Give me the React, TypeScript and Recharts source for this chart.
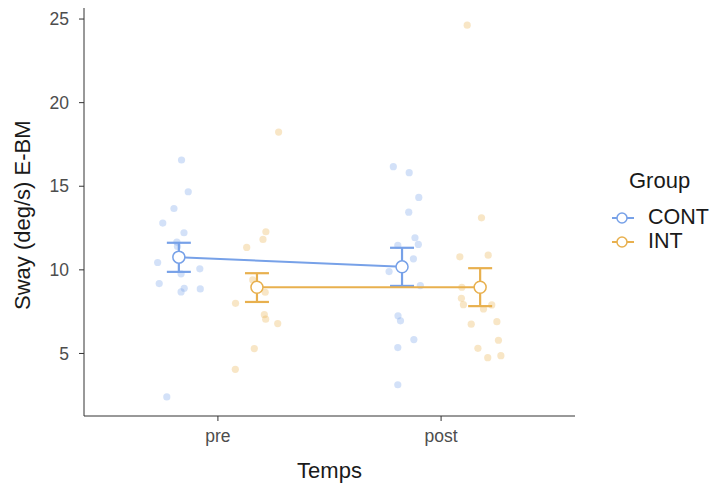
import {
  ComposedChart,
  Scatter,
  ErrorBar,
  XAxis,
  YAxis,
  Legend,
} from "recharts";

const categories = ["pre", "post"];
const groups = ["CONT", "INT"];
const colors = ["#77A1E8", "#E8B04E"];
const yTicks = [5, 10, 15, 20, 25];

// raw observations, x = jittered position around the category (1 = pre, 2 = post)
const contPreX = [0.837, 0.867, 0.803, 0.753, 0.848, 0.816, 0.819, 0.73, 0.919, 0.835, 0.737, 0.849, 0.835, 0.921, 0.771];
const contPreY = [16.57, 14.67, 13.67, 12.8, 12.22, 11.66, 11.4, 10.44, 10.06, 9.76, 9.18, 8.9, 8.68, 8.86, 2.4];
const intPreX = [1.272, 1.215, 1.202, 1.129, 1.156, 1.212, 1.079, 1.208, 1.214, 1.268, 1.163, 1.078];
const intPreY = [18.24, 12.28, 11.82, 11.34, 9.4, 8.66, 8.0, 7.32, 7.05, 6.79, 5.29, 4.05];
const contPostX = [1.786, 1.857, 1.9, 1.855, 1.883, 1.898, 1.806, 1.876, 1.767, 1.907, 1.807, 1.818, 1.878, 1.806, 1.806];
const contPostY = [16.17, 15.81, 14.33, 13.45, 11.92, 11.52, 11.46, 10.66, 9.9, 9.06, 7.25, 6.95, 5.83, 5.35, 3.13];
const intPostX = [2.117, 2.181, 2.084, 2.211, 2.093, 2.091, 2.1, 2.19, 2.227, 2.25, 2.135, 2.257, 2.165, 2.209, 2.268];
const intPostY = [24.63, 13.11, 10.78, 10.88, 8.96, 8.3, 7.92, 7.66, 7.9, 6.9, 6.75, 5.79, 5.31, 4.75, 4.87];

// group means with lower / upper bounds, dodged x
const meanX = [[0.825, 1.825], [1.175, 2.175]];
const meanY = [[10.76, 10.18], [8.96, 8.96]];
const lowY = [[9.88, 9.04], [8.08, 7.83]];
const highY = [[11.62, 11.32], [9.8, 10.1]];

const toPts = (xs: number[], ys: number[]) => xs.map((x, i) => ({ x, y: ys[i] }));

const rawPts = [
  [...toPts(contPreX, contPreY), ...toPts(contPostX, contPostY)],
  [...toPts(intPreX, intPreY), ...toPts(intPostX, intPostY)],
];

const meanPts = groups.map((_, g) =>
  meanX[g].map((x, i) => ({
    x,
    y: meanY[g][i],
    err: [meanY[g][i] - lowY[g][i], highY[g][i] - meanY[g][i]],
  }))
);

const font = "'Liberation Sans', Arial, sans-serif";

function MeanDot(props: any) {
  const { cx, cy, stroke } = props;
  return <circle cx={cx} cy={cy} r={6} fill="#fff" stroke={stroke} strokeWidth={1.5} />;
}

function RawDot(props: any) {
  const { cx, cy, fill } = props;
  return <circle cx={cx} cy={cy} r={3.6} fill={fill} fillOpacity={0.32} />;
}

function GroupLegend() {
  return (
    <div style={{ fontFamily: font, color: "#1a1a1a", lineHeight: 1 }}>
      <div style={{ fontSize: 22, marginLeft: 18, marginBottom: 14 }}>Group</div>
      {groups.map((g, i) => (
        <div key={g} style={{ display: "flex", alignItems: "center", height: 24 }}>
          <svg width={24} height={20}>
            <line x1={1} x2={23} y1={10} y2={10} stroke={colors[i]} strokeWidth={2} />
            <circle cx={11} cy={10} r={5} fill="#fff" stroke={colors[i]} strokeWidth={1.5} />
          </svg>
          <span style={{ fontSize: 21.5, marginLeft: 13 }}>{g}</span>
        </div>
      ))}
    </div>
  );
}

export default function App() {
  return (
    <div style={{ position: "absolute", left: 0, top: 0, background: "#fff" }}>
      <ComposedChart
        width={715}
        height={486}
        margin={{ top: 8, right: 140, bottom: 0, left: 0 }}
      >
        <XAxis
          type="number"
          dataKey="x"
          domain={[0.4, 2.6]}
          ticks={[1, 2]}
          tickFormatter={(v: number) => categories[v - 1]}
          allowDataOverflow
          height={70}
          tickSize={5}
          tickMargin={9}
          stroke="#333"
          tick={{ fill: "#4d4d4d", fontSize: 17.5, fontFamily: font }}
          label={{ value: "Temps", position: "insideBottom", offset: 8, fill: "#1a1a1a", fontSize: 22, fontFamily: font }}
        />
        <YAxis
          type="number"
          dataKey="y"
          domain={[1.26, 25.66]}
          ticks={yTicks}
          allowDataOverflow
          width={84}
          tickSize={5}
          tickMargin={10}
          stroke="#333"
          tick={{ fill: "#4d4d4d", fontSize: 17.5, fontFamily: font }}
          label={{ value: "Sway (deg/s) E-BM", angle: -90, position: "insideLeft", offset: 22, dy: 98, fill: "#1a1a1a", fontSize: 22, fontFamily: font }}
        />
        <Legend
          layout="vertical"
          align="center"
          verticalAlign="middle"
          content={() => <GroupLegend />}
          wrapperStyle={{ left: 611, top: 170, width: 104 }}
        />
        {groups.map((g, i) => (
          <Scatter
            key={"raw" + g}
            data={rawPts[i]}
            fill={colors[i]}
            shape={<RawDot />}
            legendType="none"
            isAnimationActive={false}
          />
        ))}
        {groups.map((g, i) => (
          <Scatter
            key={"mean" + g}
            name={g}
            data={meanPts[i]}
            fill={colors[i]}
            stroke={colors[i]}
            line={{ stroke: colors[i], strokeWidth: 2 }}
            shape={<MeanDot />}
            isAnimationActive={false}
          >
            <ErrorBar dataKey="err" direction="y" width={12} stroke={colors[i]} strokeWidth={2.2} />
          </Scatter>
        ))}
      </ComposedChart>
    </div>
  );
}
